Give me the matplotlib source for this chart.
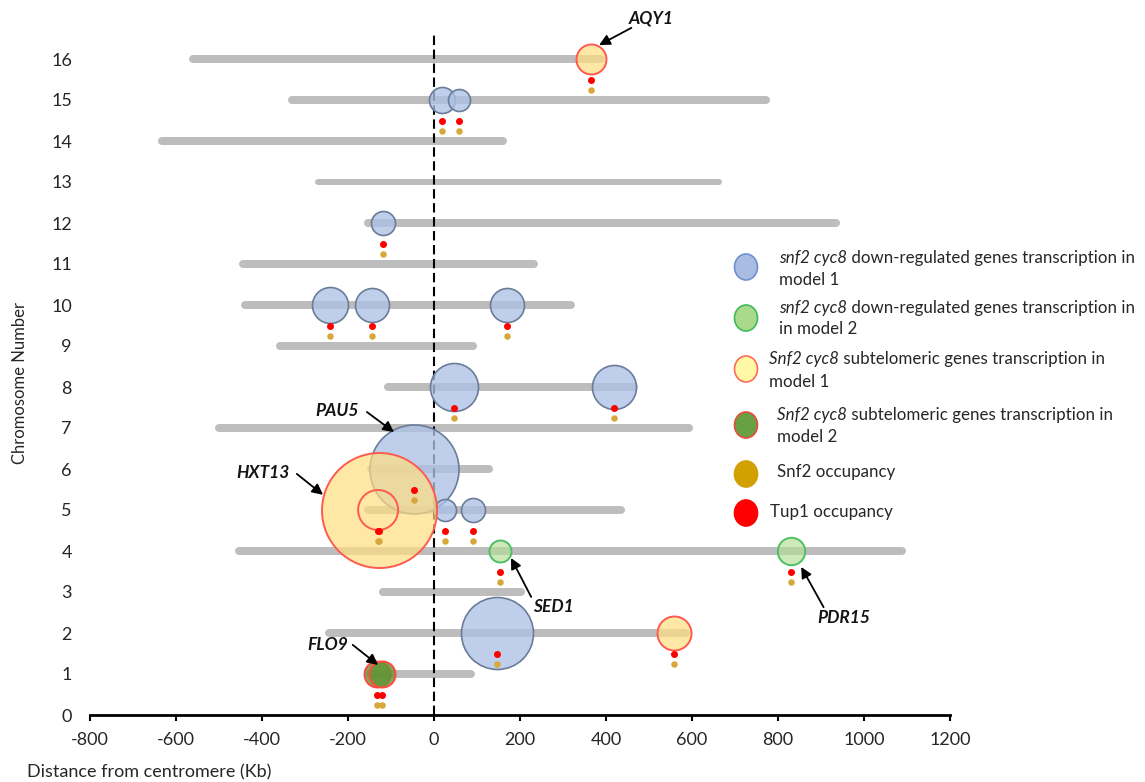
import matplotlib
matplotlib.use("Agg")
import matplotlib.pyplot as plt
from matplotlib.patches import Ellipse
import numpy as np

plt.rcParams['font.family'] = ['Lato', 'DejaVu Sans']
plt.rcParams['axes.unicode_minus'] = False

# Chromosome arms (Kb from the centromere)
chromosomes = list(range(1, 17))
left_end = [-150, -244, -119, -453, -153, -146, -500, -107, -358, -440, -444, -153, -270, -633, -330, -560]
right_end = [86, 586, 202, 1088, 435, 128, 593, 465, 91, 319, 233, 935, 663, 160, 772, 388]

# Genes: chromosome, position (Kb), bubble size, category
gene_chrom = [16, 15, 15, 12, 10, 10, 10, 8, 8, 6, 5, 5, 5, 5, 4, 4, 2, 2, 1, 1]
gene_pos = [365, 19, 58, -119, -242, -144, 170, 47, 419, -47, -128, -130, 26, 91, 153, 830, 147, 558, -133, -121]
gene_size = [15, 13, 11, 12, 18, 17, 17, 24, 22, 44.5, 57.5, 20, 11, 12, 11, 13.7, 36, 17, 13, 13]
gene_cat = ['sub1', 'down1', 'down1', 'down1', 'down1', 'down1', 'down1', 'down1', 'down1', 'down1',
            'sub1', 'sub1_ring', 'down1', 'down1', 'down2', 'down2', 'down1', 'sub1', 'sub2', 'sub2']

# Named genes: label, label centre, arrow tail, arrow head (data units)
label_names = ['AQY1', 'PAU5', 'HXT13', 'SED1', 'PDR15', 'FLO9']
label_xy = [(505, 17.0), (-226, 7.41), (-398, 5.90), (277, 2.63), (952, 2.37), (-247, 1.71)]
arrow_tail = [(459, 16.76), (-156, 7.39), (-319, 5.88), (226, 2.88), (906, 2.63), (-189, 1.71)]
arrow_head = [(384, 16.34), (-93, 6.90), (-258, 5.37), (179, 3.83), (854, 3.61), (-130, 1.22)]

x_ticks = list(range(-800, 1201, 200))
y_ticks = list(range(0, 17))

legend_labels = [
    ("snf2 cyc8", " down-regulated genes transcription in", "model 1"),
    ("snf2 cyc8", " down-regulated genes transcription in", "in model 2"),
    ("Snf2 cyc8", " subtelomeric genes transcription in", "model 1"),
    ("Snf2 cyc8", " subtelomeric genes transcription in", "model 2"),
    ("", "Snf2 occupancy", None),
    ("", "Tup1 occupancy", None),
]

W, H, DPI = 1145, 782, 100
fig = plt.figure(figsize=(W / DPI, H / DPI), dpi=DPI)
fig.patch.set_facecolor('white')
ax = fig.add_axes([90 / W, 1 - 715 / H, 860 / W, 697 / H])
ax.set_xlim(-800, 1200)
ax.set_ylim(0, 17)

px2pt = 72 / DPI

# chromosome bars
bar_width = {c: 8 * px2pt for c in chromosomes}
bar_width[13] = 6 * px2pt
for c, l, r in zip(chromosomes, left_end, right_end):
    ax.plot([l, r], [c, c], color='#bdbdbd', lw=bar_width[c], solid_capstyle='round', zorder=1)

# centromere line
ax.plot([0, 0], [0, 16.65], color='black', lw=1.5, dashes=(4.5, 2.2), zorder=2)

styles = {
    'down1': dict(fc=(0.68, 0.76, 0.90, 0.78), ec='#6b7c99', lw=1.2),
    'down2': dict(fc=(0.70, 0.87, 0.58, 0.65), ec='#4cc063', lw=1.4),
    'sub1': dict(fc=(1.0, 0.87, 0.50, 0.70), ec='#ff5a50', lw=1.4),
    'sub1_ring': dict(fc='none', ec='#ff5a50', lw=1.4),
    'sub2': dict(fc=(0.38, 0.58, 0.20, 0.80), ec='#ff4a40', lw=1.4),
}
draw_order = ['down1', 'down2', 'sub1', 'sub1_ring', 'sub2']
for cat in draw_order:
    idx = [i for i, g in enumerate(gene_cat) if g == cat]
    idx.sort(key=lambda i: -gene_size[i])
    for i in idx:
        s = (2 * gene_size[i] * px2pt) ** 2
        ax.scatter([gene_pos[i]], [gene_chrom[i]], s=s, facecolors=styles[cat]['fc'],
                   edgecolors=styles[cat]['ec'], linewidths=styles[cat]['lw'], zorder=3)

# occupancy dots under each gene
gx = np.array(gene_pos, dtype=float)
gy = np.array(gene_chrom, dtype=float)
ax.scatter(gx, gy - 0.5, s=(7 * px2pt) ** 2, color='#ff0000', linewidths=0, zorder=5)
ax.scatter(gx, gy - 0.75, s=(6.5 * px2pt) ** 2, color='#d8a73a', linewidths=0, zorder=5)

# gene labels and arrows
for name, txy, t, h in zip(label_names, label_xy, arrow_tail, arrow_head):
    ax.text(txy[0], txy[1], name, ha='center', va='center', fontsize=12.5,
            fontweight='bold', fontstyle='italic', color='#141414', zorder=6, clip_on=False)
    ax.annotate('', xy=h, xytext=t,
                arrowprops=dict(arrowstyle='-|>', color='black', lw=1.3,
                                mutation_scale=16, shrinkA=0, shrinkB=0),
                annotation_clip=False, zorder=6)

# axes styling
for sp in ['left', 'top', 'right']:
    ax.spines[sp].set_visible(False)
ax.spines['bottom'].set_linewidth(2)
ax.spines['bottom'].set_color('black')
ax.set_xticks(x_ticks)
ax.set_yticks(y_ticks)
ax.tick_params(axis='x', direction='out', length=6 * px2pt, width=1.5, pad=8,
               labelsize=13, labelcolor='#262626')
ax.tick_params(axis='y', length=0, pad=13, labelsize=13, labelcolor='#262626')

fig.text(27 / W, 1 - 772 / H, 'Distance from centromere (Kb)', ha='left', va='center',
         fontsize=13, color='#262626')
fig.text(20 / W, 1 - 383 / H, 'Chromosome Number', ha='center', va='center',
         rotation=90, fontsize=12, color='#262626')

# legend
leg_marker_y = [267, 318, 369, 425, 474, 513]
leg_text_x = [779, 779, 769, 777, 777, 770]
leg_line1_y = [258, 308, 359, 415, 472, 512]
leg_line2_y = [280, 329, 382, 437, None, None]
leg_fc = ['#a9bde3', '#a9d98b', '#fff9a6', '#6aa044', '#d2a000', '#ff0000']
leg_ec = ['#6f8fd0', '#3fba5a', '#ff6a5a', '#e84a3c', '#d2a000', '#ff0000']
renderer = fig.canvas.get_renderer()
for k in range(len(legend_labels)):
    e = Ellipse((746 / W, 1 - leg_marker_y[k] / H), 23 / W, 26 / H, transform=fig.transFigure,
                facecolor=leg_fc[k], edgecolor=leg_ec[k], lw=1.2)
    fig.add_artist(e)
    ital, rest, line2 = legend_labels[k]
    x0 = leg_text_x[k] / W
    y1 = 1 - leg_line1_y[k] / H
    if ital:
        t = fig.text(x0, y1, ital, ha='left', va='center', fontsize=12.2,
                     fontstyle='italic', color='#262626')
        bb = t.get_window_extent(renderer=renderer)
        x0 = bb.x1 / W
    fig.text(x0, y1, rest, ha='left', va='center', fontsize=12.2, color='#262626')
    if line2:
        fig.text(leg_text_x[k] / W, 1 - leg_line2_y[k] / H, line2, ha='left', va='center',
                 fontsize=12.2, color='#262626')

fig.savefig('out.png', dpi=DPI, facecolor='white')
